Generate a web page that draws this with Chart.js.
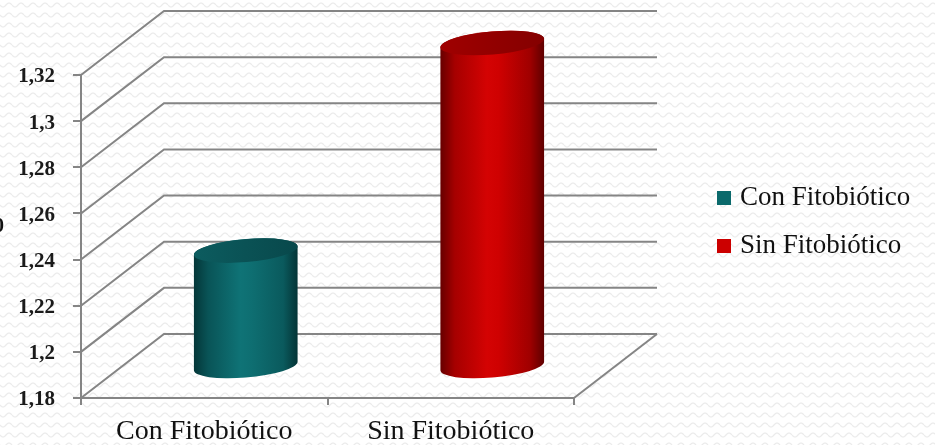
<!DOCTYPE html>
<html>
<head>
<meta charset="utf-8">
<script src="https://cdn.jsdelivr.net/npm/chart.js@4/dist/chart.umd.min.js"></script>
<style>
  html, body { margin: 0; padding: 0; background: #ffffff; }
  #wrap { width: 935px; height: 445px; position: relative; }
</style>
</head>
<body>
<div id="wrap"><canvas id="c" width="935" height="445"></canvas></div>
<script>
// Feed conversion with and without phytobiotic
const categories = ['Con Fitobiótico', 'Sin Fitobiótico'];
const values = [1.23, 1.32];
const tickValues = [1.18, 1.2, 1.22, 1.24, 1.26, 1.28, 1.3, 1.32];

const FONT = "'Liberation Serif', 'DejaVu Serif', serif";
const GRID = '#858585';
const DEPTH_X = 83;   // 3D depth offset of the back wall
const DEPTH_Y = 64;

const palettes = [
  { stops: ['#043638', '#095457', '#0f7376', '#0e6e71', '#0a5a5d', '#043436'], top: ['#0c5c5f', '#08484b'], key: '#0b6a6c' },
  { stops: ['#660000', '#a60000', '#d40303', '#cf0101', '#a00000', '#5e0000'], top: ['#a00000', '#840000'], key: '#cc0000' }
];

// faint wavy paper texture behind everything
const backgroundPlugin = {
  id: 'paper',
  beforeDraw(chart) {
    const ctx = chart.ctx;
    const tile = document.createElement('canvas');
    tile.width = 12; tile.height = 10;
    const t = tile.getContext('2d');
    t.fillStyle = '#ffffff';
    t.fillRect(0, 0, 12, 10);
    t.strokeStyle = '#ebebeb';
    t.lineWidth = 1.2;
    t.beginPath();
    for (let x = 0; x <= 12; x += 0.5) {
      const y = 5 + 2 * Math.sin(x / 12 * Math.PI * 2);
      if (x === 0) t.moveTo(x, y); else t.lineTo(x, y);
    }
    t.stroke();
    ctx.save();
    ctx.fillStyle = ctx.createPattern(tile, 'repeat');
    ctx.fillRect(0, 0, chart.width, chart.height);
    ctx.restore();
  }
};

// side wall, back wall and floor edges
const wallsPlugin = {
  id: 'walls',
  beforeDatasetsDraw(chart) {
    const ctx = chart.ctx, ys = chart.scales.y, xs = chart.scales.x;
    const left = xs.left, right = xs.right, bottom = ys.bottom;
    ctx.save();
    ctx.strokeStyle = GRID;
    ctx.lineWidth = 2;
    ctx.lineJoin = 'miter';
    tickValues.forEach(v => {
      const y = ys.getPixelForValue(v);
      ctx.beginPath();
      ctx.moveTo(left, y);
      ctx.lineTo(left + DEPTH_X, y - DEPTH_Y);
      ctx.lineTo(right + DEPTH_X, y - DEPTH_Y);
      ctx.stroke();
    });
    ctx.beginPath();
    ctx.moveTo(right, bottom);
    ctx.lineTo(right + DEPTH_X, bottom - DEPTH_Y);
    ctx.stroke();
    ctx.restore();
  }
};

// cylinders standing in the middle of the depth
const cylinderPlugin = {
  id: 'cylinders',
  afterDatasetsDraw(chart) {
    const ctx = chart.ctx, xs = chart.scales.x, ys = chart.scales.y;
    const catW = (xs.right - xs.left) / categories.length;
    const rx = catW * 0.211;
    const ry = 11.5;
    const rot = -0.085;
    const tR = Math.atan2(-ry * Math.sin(rot), rx * Math.cos(rot));
    const tL = tR + Math.PI;
    const pt = (cx, cy, t) => [
      cx + rx * Math.cos(t) * Math.cos(rot) - ry * Math.sin(t) * Math.sin(rot),
      cy + rx * Math.cos(t) * Math.sin(rot) + ry * Math.sin(t) * Math.cos(rot)
    ];
    values.forEach((v, i) => {
      const pal = palettes[i];
      const cx = xs.getPixelForValue(i) + DEPTH_X / 2;
      const baseY = ys.getPixelForValue(ys.min) - DEPTH_Y / 2;
      const topY = ys.getPixelForValue(v) - DEPTH_Y / 2;
      const topL = pt(cx, topY, tL), botL = pt(cx, baseY, tL);
      const topRp = pt(cx, topY, tR);

      const g = ctx.createLinearGradient(cx - rx, 0, cx + rx, 0);
      const pos = [0, 0.14, 0.45, 0.56, 0.86, 1];
      pal.stops.forEach((c, k) => g.addColorStop(pos[k], c));

      ctx.save();
      ctx.beginPath();
      ctx.moveTo(topL[0], topL[1]);
      ctx.lineTo(botL[0], botL[1]);
      ctx.ellipse(cx, baseY, rx, ry, rot, tL, tR, true);
      ctx.lineTo(topRp[0], topRp[1]);
      ctx.ellipse(cx, topY, rx, ry, rot, tR, tL, true);
      ctx.closePath();
      ctx.fillStyle = g;
      ctx.fill();

      const gt = ctx.createLinearGradient(cx - rx, topY, cx + rx, topY);
      gt.addColorStop(0, pal.top[0]);
      gt.addColorStop(1, pal.top[1]);
      ctx.beginPath();
      ctx.ellipse(cx, topY, rx, ry, rot, 0, Math.PI * 2);
      ctx.fillStyle = gt;
      ctx.fill();
      ctx.restore();
    });
  }
};

// legend on the right and the clipped axis caption on the far left
const legendPlugin = {
  id: 'sideLegend',
  afterDraw(chart) {
    const ctx = chart.ctx;
    ctx.save();
    ctx.font = '27px ' + FONT;
    ctx.textBaseline = 'alphabetic';
    ctx.textAlign = 'left';
    categories.forEach((name, i) => {
      const y = 205 + i * 48;
      ctx.fillStyle = palettes[i].key;
      ctx.fillRect(717, y - 14, 14, 14);
      ctx.fillStyle = '#111111';
      ctx.fillText(name, 740, y);
    });
    ctx.font = 'bold 20px ' + FONT;
    ctx.textAlign = 'right';
    ctx.textBaseline = 'middle';
    ctx.fillText('0', 4, 227);
    ctx.restore();
  }
};

new Chart(document.getElementById('c'), {
  type: 'bar',
  data: {
    labels: categories,
    datasets: [{ data: values, backgroundColor: 'rgba(0,0,0,0)', borderWidth: 0 }]
  },
  options: {
    responsive: false,
    animation: false,
    layout: { padding: { top: 75, right: 361, left: 0, bottom: 0 } },
    plugins: { legend: { display: false }, tooltip: { enabled: false } },
    scales: {
      y: {
        min: 1.18,
        max: 1.32,
        afterBuildTicks: s => { s.ticks = tickValues.map(v => ({ value: v })); },
        afterFit: s => { s.width = 81; },
        ticks: {
          callback: v => String(+Number(v).toFixed(2)).replace('.', ','),
          font: { family: FONT, size: 21, weight: 'bold' },
          color: '#1a1a1a',
          padding: 18,
          labelOffset: 2
        },
        grid: { drawOnChartArea: false, drawTicks: true, tickLength: 8, color: GRID, lineWidth: 2 },
        border: { color: GRID, width: 2 }
      },
      x: {
        afterFit: s => { s.height = 47; },
        ticks: {
          font: { family: FONT, size: 28 },
          color: '#111111',
          padding: 10,
          maxRotation: 0,
          autoSkip: false
        },
        grid: { offset: true, drawOnChartArea: false, drawTicks: true, tickLength: 7, color: GRID, lineWidth: 2 },
        border: { color: GRID, width: 2 }
      }
    }
  },
  plugins: [backgroundPlugin, wallsPlugin, cylinderPlugin, legendPlugin]
});
</script>
</body>
</html>
